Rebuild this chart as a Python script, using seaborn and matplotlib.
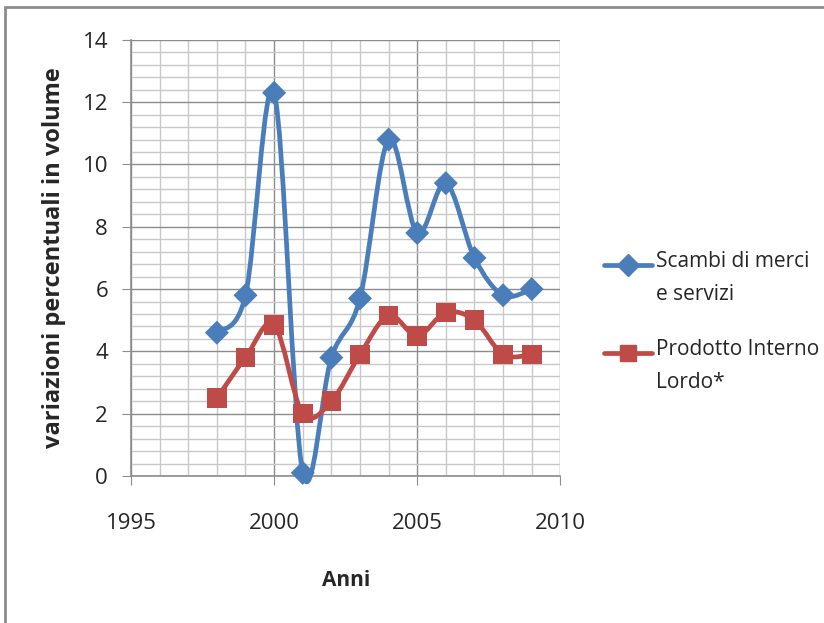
import matplotlib
matplotlib.use("Agg")
import matplotlib.pyplot as plt
from matplotlib.path import Path
from matplotlib.patches import PathPatch, Rectangle
from matplotlib.lines import Line2D
from matplotlib.ticker import MultipleLocator
import seaborn as sns
import pandas as pd
import numpy as np

anni = [1998, 1999, 2000, 2001, 2002, 2003, 2004, 2005, 2006, 2007, 2008, 2009]
scambi = [4.6, 5.8, 12.3, 0.1, 3.8, 5.7, 10.8, 7.8, 9.4, 7.0, 5.8, 6.0]
pil = [2.5, 3.8, 4.85, 2.0, 2.4, 3.9, 5.15, 4.5, 5.25, 5.0, 3.9, 3.9]
serie = ["Scambi di merci\ne servizi", "Prodotto Interno\nLordo*"]
colori = ["#4A7EBB", "#BE4B48"]
marker_map = {serie[0]: "D", serie[1]: "s"}
size_map = {serie[0]: 150, serie[1]: 200}

df = pd.DataFrame({
    "Anni": anni * 2,
    "valore": scambi + pil,
    "serie": [serie[0]] * len(anni) + [serie[1]] * len(anni),
})

sns.set_style("white")
plt.rcParams["font.family"] = ["Open Sans", "DejaVu Sans"]

fig = plt.figure(figsize=(8.24, 6.23), dpi=100)
ax = fig.add_axes([0.159, 0.236, 0.521, 0.700])


def smooth_path(xs, ys):
    # Excel-like smoothed line: Catmull-Rom converted to cubic Bezier segments
    p = np.column_stack([xs, ys]).astype(float)
    verts = [p[0]]
    codes = [Path.MOVETO]
    n = len(p)
    for i in range(n - 1):
        p0 = p[i - 1] if i > 0 else p[i]
        p1, p2 = p[i], p[i + 1]
        p3 = p[i + 2] if i + 2 < n else p[i + 1]
        verts += [p1 + (p2 - p0) / 6, p2 - (p3 - p1) / 6, p2]
        codes += [Path.CURVE4] * 3
    return Path(verts, codes)


for nome, col, vals in zip(serie, colori, [scambi, pil]):
    ax.add_patch(PathPatch(smooth_path(anni, vals), facecolor="none",
                           edgecolor=col, lw=3.4, capstyle="round",
                           joinstyle="round", clip_on=False, zorder=3))

sns.scatterplot(data=df, x="Anni", y="valore", hue="serie", style="serie",
                size="serie", sizes=size_map, palette=colori,
                markers=marker_map, linewidth=0, ax=ax, legend=False,
                zorder=4, clip_on=False)

ax.set_xlim(1995, 2010)
ax.set_ylim(0, 14)
ax.xaxis.set_major_locator(MultipleLocator(5))
ax.xaxis.set_minor_locator(MultipleLocator(1))
ax.yaxis.set_major_locator(MultipleLocator(2))
ax.yaxis.set_minor_locator(MultipleLocator(0.4))
ax.grid(which="major", color="#8c8c8c", lw=1.0)
ax.grid(which="minor", color="#c8c8c8", lw=1.0)
ax.set_axisbelow(True)
for s in ["top", "right"]:
    ax.spines[s].set_visible(False)
for s in ["left", "bottom"]:
    ax.spines[s].set_color("#8c8c8c")
    ax.spines[s].set_linewidth(1.2)
ax.tick_params(which="major", length=6.5, color="#8c8c8c", labelsize=16,
               direction="out", left=True, bottom=True)
ax.tick_params(axis="x", pad=20)
ax.tick_params(axis="y", pad=10)
ax.tick_params(which="minor", length=0)
ax.set_xlabel("Anni", fontsize=15, fontweight="bold", labelpad=26)
ax.set_ylabel("variazioni percentuali in volume", fontsize=17,
              fontweight="bold", labelpad=12)

# legend drawn as in the original: marker aligned with the first text line
leg_y = [0.575, 0.434]
for nome, col, y in zip(serie, colori, leg_y):
    fig.add_artist(Line2D([604 / 824, 652 / 824], [y, y], color=col, lw=3.4,
                          transform=fig.transFigure))
    fig.add_artist(Line2D([628 / 824], [y], color=col, marker=marker_map[nome],
                          markersize=11 if marker_map[nome] == "D" else 12,
                          lw=0, transform=fig.transFigure))
    fig.text(656 / 824, y + 0.022, nome, fontsize=15, va="top", ha="left",
             linespacing=1.75)

fig.patches.append(Rectangle((0.006, -0.1), 1.2, 1.089, transform=fig.transFigure,
                             fill=False, edgecolor="#8c8c8c", lw=2))

fig.savefig("out.png", dpi=100)
